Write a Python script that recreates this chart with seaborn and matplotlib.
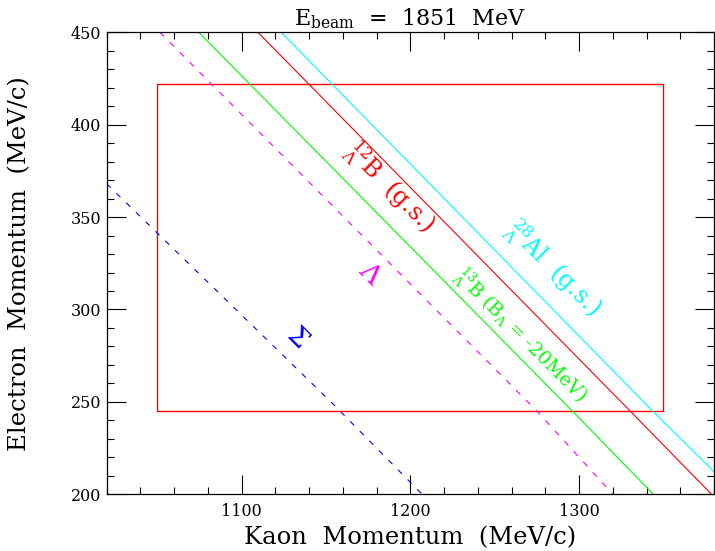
import numpy as np
import pandas as pd
import seaborn as sns
import matplotlib
matplotlib.use("Agg")
import matplotlib.pyplot as plt
from matplotlib.patches import Rectangle
from matplotlib.ticker import MultipleLocator

# ---- data ----
sigma_pk = [1020, 1154, 1207]
sigma_pe = [368, 249, 200]
lambda_pk = [1051.5, 1082, 1275, 1320]
lambda_pe = [450, 422, 245, 200]
b13_pk = [1074.5, 1296, 1344]
b13_pe = [450, 245, 200]
b12_pk = [1109.6, 1330.3, 1378.5]
b12_pe = [450, 245, 200]
al28_pk = [1123.4, 1343.6, 1380]
al28_pe = [450, 245, 212.2]

box_pk = [1050, 1350]
box_pe = [245, 422]

sns.set_style("ticks")
plt.rcParams['font.family'] = ['DejaVu Serif']
plt.rcParams['mathtext.fontset'] = 'dejavuserif'
plt.rcParams['lines.scale_dashes'] = False
for k in ['text.color', 'axes.labelcolor', 'xtick.color', 'ytick.color']:
    plt.rcParams[k] = 'black'

fig = plt.figure(figsize=(7.15, 5.51), dpi=100)
ax = fig.add_axes([0.1492, 0.1029, 0.8495, 0.8385])

lines = [
    (sigma_pk, sigma_pe, '#0000ff', (0, (4.0, 5.8))),
    (lambda_pk, lambda_pe, '#ff00ff', (0, (4.3, 5.8))),
    (b13_pk, b13_pe, '#00ff00', '-'),
    (b12_pk, b12_pe, '#ff0000', '-'),
    (al28_pk, al28_pe, '#00ffff', '-'),
]
for xs, ys, col, ls in lines:
    df = pd.DataFrame({'pk': xs, 'pe': ys})
    sns.lineplot(data=df, x='pk', y='pe', ax=ax, color=col, linestyle=ls,
                 linewidth=0.8, estimator=None, sort=False)

ax.add_patch(Rectangle((box_pk[0], box_pe[0]), box_pk[1] - box_pk[0],
                       box_pe[1] - box_pe[0], fill=False, edgecolor='#ff0000',
                       linewidth=1.0))

ax.set_xlim(1020, 1380)
ax.set_ylim(200, 450)
ax.xaxis.set_major_locator(MultipleLocator(100))
ax.xaxis.set_minor_locator(MultipleLocator(20))
ax.yaxis.set_major_locator(MultipleLocator(50))
ax.yaxis.set_minor_locator(MultipleLocator(10))
ax.tick_params(which='both', direction='in', top=True, right=True,
               width=0.8, colors='black', labelsize=11.5)
ax.tick_params(which='major', length=13.5)
ax.tick_params(which='minor', length=4.8)
ax.tick_params(axis='y', which='major', pad=4)
ax.tick_params(axis='x', which='major', pad=6)
for s in ax.spines.values():
    s.set_linewidth(0.9)
    s.set_color('black')

ax.set_xlabel('Kaon  Momentum  (MeV/c)', fontsize=17.5, labelpad=5)
ax.set_ylabel('Electron  Momentum  (MeV/c)', fontsize=17.5, labelpad=28)
ax.set_title(r'E$_{\mathrm{beam}}$  =  1851  MeV', fontsize=16, pad=5)

rot = -45
ax.text(1133, 285, r'$\Sigma$', color='#0000ff', fontsize=19, rotation=rot,
        ha='center', va='center')
ax.text(1176, 319, r'$\Lambda$', color='#ff00ff', fontsize=19, rotation=rot,
        ha='center', va='center')
ax.text(1188, 366, r'${}^{12}_{\Lambda}$B  (g.s.)', color='#ff0000', fontsize=17,
        rotation=rot, ha='center', va='center')
ax.text(1265, 286, r'${}^{13}_{\Lambda}$B (B$_{\Lambda}$ = -20MeV)', color='#00ff00',
        fontsize=13.5, rotation=rot, ha='center', va='center')
ax.text(1284.6, 322, r'${}^{28}_{\Lambda}$Al  (g.s.)', color='#00ffff', fontsize=17,
        rotation=rot, ha='center', va='center')

fig.savefig('out.png', dpi=100)
